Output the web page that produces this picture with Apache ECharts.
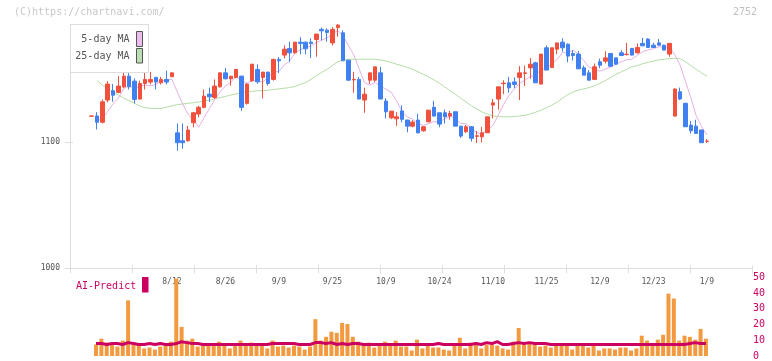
<!DOCTYPE html>
<html><head><meta charset="utf-8">
<script src="https://cdn.jsdelivr.net/npm/echarts@6/dist/echarts.min.js"></script>
<style>html,body{margin:0;padding:0;background:#fff}#c{width:772px;height:361px}</style>
</head><body><div id="c"></div>
<script>
const FONT = '"DejaVu Sans Mono", monospace';
const tickLabelPos = [15, 25, 35, 45, 55, 65, 75, 85, 95, 105, 115];
const tickLabels = ['8/12','8/26','9/9','9/25','10/9','10/24','11/10','11/25','12/9','12/23','1/9'];
const openP = [1120.8,1121,1116,1133.6,1141,1139.7,1144.1,1152.6,1148.6,1134.4,
1146.8,1147.9,1151.6,1147.3,1150,1152.1,1107.6,1101.3,1101.3,1115.6,
1122.5,1127.8,1138.3,1135.7,1144.1,1155.2,1150.5,1151.6,1152.6,1131,
1148.9,1157.9,1151.6,1155.8,1150,1165.9,1169.3,1174.6,1171.1,1179.6,
1179.6,1179.6,1181.7,1189.7,1189.1,1179,1191.3,1187,1165.3,1149.6,
1150,1133.6,1149.4,1149.4,1155.2,1132.8,1119.5,1118.7,1125,1117.7,
1112.9,1117.7,1109.2,1116.3,1127.8,1123.5,1123.5,1120.9,1124.3,1112.9,
1108.4,1112.4,1104.8,1104.4,1107.6,1129.6,1134.4,1146.6,1147.3,1148,
1151.6,1154.7,1159.2,1163.2,1146.3,1175.1,1159.5,1174,1179.6,1178,
1170.6,1170.1,1159.2,1155.2,1150,1164,1164.5,1170.6,1167.1,1171.1,
1169.7,1174.6,1171.1,1178.6,1182,1177.2,1179,1177.2,1170.1,1120.9,
1140.2,1131,1113.7,1112.9,1109.8,1100.8];
const closeP = [1121,1116,1132.2,1146.3,1137.5,1144.7,1152.6,1144.1,1134.1,1146.8,
1150,1150,1147.9,1150,1147.9,1155.2,1099.7,1099.7,1109.8,1123.5,
1127.8,1136.7,1136.2,1144.7,1155.2,1150.5,1152.6,1157.9,1127.8,1146.3,
1162.1,1148.1,1155.8,1146.8,1165.9,1164.8,1174,1171.1,1179.6,1178.6,
1174.3,1178.6,1186,1188.6,1187.3,1189.7,1193.1,1164.8,1149.4,1150,
1134.4,1138.3,1155.2,1160,1134.4,1124.3,1124.8,1120.3,1118.3,1112.9,
1116.1,1107.6,1112.4,1125.6,1120.9,1114.5,1120.3,1123,1112.9,1105,
1112.4,1103.2,1105.2,1107.6,1120.3,1131.4,1144.1,1147,1143.3,1146,
1155.2,1155.2,1162.1,1147.3,1170.1,1157.4,1175.1,1179,1175.1,1168.5,
1169,1158.4,1153.4,1149.4,1160,1161.3,1167.1,1160.5,1162.1,1169,
1170,1169.3,1175.4,1176.7,1175.4,1175.4,1177.2,1173.3,1178.6,1142.3,
1134.4,1112.4,1109.2,1107.1,1099.7,1101];
const lowP = [1120.5,1110.3,1115,1132,1132.2,1139,1143,1142,1131,1134,
1142,1146,1142,1146,1146,1152,1093.3,1095,1100.5,1112,
1120,1127,1132,1134.5,1143.5,1150,1145,1151,1125,1130,
1148,1146.5,1135,1145,1149,1155,1166.8,1164,1170.5,1170,
1170,1167,1168,1181,1180,1177,1184,1164.8,1149,1139.4,
1134.4,1123.5,1146.5,1148,1134.4,1119,1118.5,1113,1116,1108,
1112,1107,1108.5,1116,1120.5,1112,1115,1118,1112.9,1103.5,
1107.5,1100.6,1099.4,1100,1107.6,1119,1126,1138.3,1139.4,1143,
1133.6,1144.7,1150.5,1147.3,1146,1157.4,1159,1170,1172,1163.5,
1165,1158.4,1153.4,1149.4,1150,1159,1162.7,1160,1161.5,1168.5,
1169,1169,1170.5,1176.5,1175,1175,1177,1173,1168,1120.5,
1133.6,1112.4,1107,1107,1099.7,1099.7];
const highP = [1121.5,1124,1134,1148.6,1146.3,1152.6,1156,1158,1150.8,1149,
1155.4,1156,1152,1152,1157,1155.5,1115,1115,1113,1124,
1129,1142,1143.5,1150,1155.2,1159,1152.6,1158.5,1153,1147,
1162.1,1162,1155.8,1156,1166.5,1167.7,1177,1180,1179.6,1183.5,
1180,1182.7,1186,1191.2,1190.5,1191.5,1194,1189,1165.5,1156,
1152,1143.5,1155.2,1160,1160,1135,1124.8,1124,1129.4,1118,
1117.7,1122.7,1112.4,1125.6,1133,1123.5,1126,1125,1124.5,1113,
1113.7,1113,1109,1112.4,1120.3,1134.4,1144.1,1149.4,1152,1151.6,
1160.5,1161,1167,1164,1170.1,1177,1175.1,1179,1182.7,1178.5,
1173.3,1172.5,1161,1157.5,1162.7,1166.5,1172.3,1170.6,1167.1,1173.3,
1179,1175,1178.6,1183,1182.7,1179,1182,1177.5,1179,1143,
1143.5,1131.5,1117,1118,1110,1102.7];
const ma5 = ['-',1117,1119,1124.5,1130.6,1135.3,1142.7,1145.0,1142.6,1144.5,
1145.5,1145.0,1145.8,1148.9,1149.2,1150.2,1140.1,1130.5,1122.5,1117.6,
1112.1,1119.5,1126.8,1133.8,1140.1,1144.7,1147.8,1152.2,1148.8,1147.0,
1149.3,1148.4,1148.0,1151.8,1155.7,1156.3,1161.5,1164.5,1171.1,1173.6,
1175.5,1176.4,1179.4,1181.2,1183.0,1186.0,1188.9,1184.7,1176.9,1169.4,
1158.3,1147.4,1145.5,1147.6,1144.5,1142.4,1139.7,1132.8,1124.4,1120.1,
1118.5,1115.0,1113.5,1114.9,1116.5,1116.2,1118.7,1120.9,1118.3,1115.1,
1114.7,1111.3,1107.7,1106.7,1109.7,1113.5,1121.7,1130.1,1137.2,1142.4,
1147.1,1149.3,1152.4,1153.2,1158.0,1158.4,1162.4,1165.8,1171.3,1171.0,
1173.3,1170.0,1164.9,1159.7,1158.0,1156.5,1158.2,1159.7,1162.2,1164.0,
1165.7,1166.2,1169.2,1172.1,1173.4,1174.4,1176.0,1175.6,1176.0,1169.4,
1161.2,1148.2,1135.4,1121.1,1112.6,1105.9];
const ma25 = ['-',1149,1145.5,1142.5,1140,1137.5,1135,1133,1131,1129,
1127.5,1127,1127,1127,1128,1129,1130,1130.5,1131,1131.5,
1132,1133,1133.5,1134.5,1135.5,1136.5,1137.5,1138.5,1139.5,1140,
1140.5,1141,1141,1141.5,1142,1142.5,1143,1143.5,1144.5,1146,
1147.5,1150,1153,1155.5,1158,1161,1164,1165.5,1166,1166,
1166,1166,1166,1166,1165.5,1164.5,1163.5,1162,1161,1159.5,
1158,1156,1154,1152,1149.5,1147,1144,1141,1138,1135,
1132,1129,1126.5,1124,1122.5,1121,1120.5,1120.3,1120.3,1120.5,
1121,1121.5,1122.5,1124,1125.5,1127.5,1129.5,1132,1135,1138,
1140,1141.5,1142.5,1143.5,1145,1147,1149,1151.5,1154,1156,
1158,1160,1161,1162.5,1163.5,1164.5,1165.5,1166,1166.5,1166.7,
1166.5,1164,1161,1158,1155.2,1152.6];
const volume = ['-',7.3,11.0,8.5,8.1,6.0,9.8,35.3,7.3,7.3,
4.8,5.4,4.1,6.0,6.6,9.1,49.2,18.5,9.8,11.0,
6.0,7.3,7.3,6.6,9.1,6.6,4.8,6.6,9.8,6.6,
8.5,6.6,6.6,4.8,9.8,6.0,6.6,5.4,6.6,6.0,
4.1,6.0,23.4,9.8,12.2,15.4,14.7,21.0,20.3,12.2,
9.1,7.3,8.5,5.4,7.3,9.1,7.3,9.8,6.0,6.0,
3.5,10.4,4.8,7.3,5.4,5.4,4.1,3.5,7.3,11.6,
4.8,8.5,7.3,4.8,7.3,7.3,6.6,4.8,4.1,9.1,
17.8,7.3,8.5,7.3,6.0,6.6,5.4,7.3,7.3,7.3,
4.1,6.6,6.6,5.4,6.6,3.5,4.8,4.8,4.1,5.4,
5.4,3.5,4.8,12.9,9.8,7.3,10.4,13.5,39.6,36.5,
9.8,12.9,12.2,10.4,17.2,11.0];
const aiPredict = ['-',7.9,7.9,7.3,7.9,7.9,7.3,8.5,7.9,7.3,
7.3,7.9,7.3,7.9,7.3,7.3,7.9,9.1,8.5,7.9,
7.9,7.3,7.3,7.3,7.3,7.3,7.3,7.3,7.3,7.3,
7.3,7.3,7.3,7.3,7.9,7.9,7.9,7.9,7.9,7.3,
7.3,7.3,8.5,8.5,7.9,8.5,7.3,7.9,7.3,7.9,
7.9,7.3,7.3,7.3,7.3,7.3,7.3,7.3,7.3,7.3,
7.3,7.3,7.3,7.3,7.3,7.9,7.3,7.3,7.3,7.3,
7.3,7.3,7.9,7.3,8.5,7.9,9.1,7.3,7.3,7.9,
8.5,7.9,8.5,7.9,7.9,7.9,7.3,7.3,7.3,7.3,
7.3,7.3,7.3,7.3,7.3,7.3,7.3,7.3,7.3,7.3,
7.3,7.3,7.3,7.3,7.3,7.3,7.3,7.3,7.3,7.3,
7.3,7.3,7.9,8.5,7.9,7.9];

const categories = openP.map((_, i) => 'd' + i);
const labelMap = {};
tickLabelPos.forEach((p, k) => { labelMap[p] = tickLabels[k]; });
const candleData = openP.map((o, i) => [o, closeP[i], lowP[i], highP[i]]);

const AX = '#dddddd', TXT = '#555555', CRIM = '#cc0060';
const chart = echarts.init(document.getElementById('c'), null, {renderer: 'canvas'});
chart.setOption({
  animation: false,
  grid: [
    {left: 70, right: 20, top: 24, bottom: 92.7},
    {left: 89, right: 62.4, top: 24, bottom: 92.7},
    {left: 88, right: 63.4, top: 277.3, bottom: 3.3}
  ],
  xAxis: [
    {gridIndex: 0, type: 'value', position: 'bottom', min: 0, max: 11, interval: 1,
     axisLine: {show: true, lineStyle: {color: AX}}, axisTick: {show: true, length: 5, lineStyle: {color: AX}},
     axisLabel: {show: false}, splitLine: {show: false}},
    {gridIndex: 0, type: 'value', position: 'bottom', min: 0, max: 11, interval: 1,
     axisLine: {show: false}, axisTick: {show: true, inside: true, length: 3, lineStyle: {color: AX}},
     axisLabel: {show: false}, splitLine: {show: false}},
    {gridIndex: 1, type: 'category', position: 'bottom', data: categories, boundaryGap: true,
     axisLine: {show: false}, axisTick: {show: false}, splitLine: {show: false},
     axisLabel: {interval: 0, margin: 10, fontSize: 8, fontFamily: FONT, color: TXT,
       formatter: (v, i) => labelMap[i] || ''}},
    {gridIndex: 2, type: 'category', data: categories, boundaryGap: true, show: false}
  ],
  yAxis: [
    {gridIndex: 0, type: 'value', position: 'left', min: 1000, max: 1194,
     axisLine: {show: true, lineStyle: {color: AX}},
     axisTick: {show: true, length: 5, customValues: [1000, 1100], lineStyle: {color: AX}},
     axisLabel: {customValues: [1000, 1100], fontSize: 8, fontFamily: FONT, color: TXT, margin: 10,
       formatter: v => String(v)},
     splitLine: {show: false}},
    {gridIndex: 0, type: 'value', position: 'left', min: 1000, max: 1194,
     axisLine: {show: false},
     axisTick: {show: true, inside: true, length: 3, customValues: [1000, 1100], lineStyle: {color: AX}},
     axisLabel: {show: false}, splitLine: {show: false}},
    {gridIndex: 1, type: 'value', min: 1000, max: 1194, show: false, splitLine: {show: false}},
    {gridIndex: 2, type: 'value', min: 0, max: 50, interval: 10, position: 'right', offset: 43.4,
     axisLine: {show: false}, axisTick: {show: false}, splitLine: {show: false},
     axisLabel: {fontSize: 10, fontFamily: FONT, color: CRIM, margin: 1}}
  ],
  series: [
    {type: 'line', xAxisIndex: 2, yAxisIndex: 2, data: ma25, symbol: 'none',
     lineStyle: {color: '#b4dca4', width: 1}, z: 2},
    {type: 'line', xAxisIndex: 2, yAxisIndex: 2, data: ma5, symbol: 'none',
     lineStyle: {color: '#e6b0e6', width: 1}, z: 2},
    {type: 'candlestick', xAxisIndex: 2, yAxisIndex: 2, data: candleData, barWidth: 4, z: 3,
     itemStyle: {color: '#f0503c', color0: '#4080f0', borderColor: '#f0503c', borderColor0: '#4080f0', borderWidth: 1}},
    {type: 'bar', xAxisIndex: 3, yAxisIndex: 3, data: volume, barWidth: 4,
     itemStyle: {color: '#f39a40'}},
    {type: 'line', xAxisIndex: 3, yAxisIndex: 3, data: aiPredict, symbol: 'none',
     lineStyle: {color: CRIM, width: 3}, z: 4}
  ],
  graphic: [
    {type: 'text', left: 14, top: 7, style: {text: '(C)https://chartnavi.com/', fill: '#c8c8c8', font: '10px ' + FONT}},
    {type: 'text', right: 15, top: 7, style: {text: '2752', fill: '#c0c0c0', font: '10px ' + FONT}},
    {type: 'rect', shape: {x: 70.5, y: 24.5, width: 78, height: 48}, style: {fill: '#ffffff', stroke: '#dddddd', lineWidth: 1}, z: 10},
    {type: 'text', z: 11, style: {text: '5-day MA', x: 129.5, y: 39, align: 'right', verticalAlign: 'middle', fill: TXT, font: '10px ' + FONT}},
    {type: 'text', z: 11, style: {text: '25-day MA', x: 129.5, y: 56, align: 'right', verticalAlign: 'middle', fill: TXT, font: '10px ' + FONT}},
    {type: 'rect', z: 11, shape: {x: 136.5, y: 31.5, width: 6, height: 15}, style: {fill: '#ecbcec', stroke: '#555555', lineWidth: 1}},
    {type: 'rect', z: 11, shape: {x: 136.5, y: 48.5, width: 6, height: 14.5}, style: {fill: '#bcdeb4', stroke: '#555555', lineWidth: 1}},
    {type: 'text', z: 11, style: {text: 'AI-Predict', x: 76, y: 286, align: 'left', verticalAlign: 'middle', fill: CRIM, font: '10px ' + FONT}},
    {type: 'rect', z: 11, shape: {x: 142, y: 277, width: 6.5, height: 15.5}, style: {fill: CRIM}}
  ]
});
</script>
</body></html>
